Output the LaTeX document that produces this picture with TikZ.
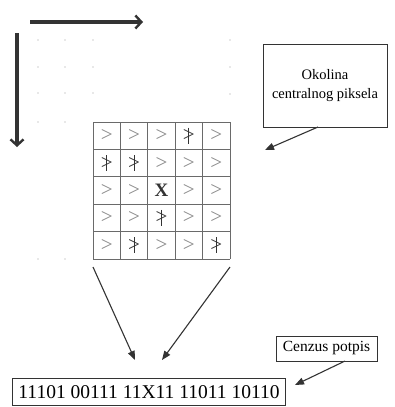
\documentclass[tikz,border=0pt]{standalone}
\usepackage{fontspec}
\setmainfont{Liberation Serif}
\usetikzlibrary{arrows.meta}
\definecolor{ink}{HTML}{333333}
\definecolor{gline}{HTML}{6A6A6A}
\definecolor{gsym}{HTML}{8A8A8A}
\begin{document}
\begin{tikzpicture}[x=1pt,y=-1pt,
  bigarrow/.style={draw=ink,line width=3.4pt,-{Straight Barb[length=6pt,width=13pt,line width=2.4pt]}},
  thinarrow/.style={draw=ink,line width=1.1pt,-{Triangle[length=9pt,width=7pt]}},
  labelbox/.style={draw=ink,line width=1pt,fill=white,inner sep=0pt,align=center},
  gt/.style={text=gsym,font=\fontsize{21}{21}\selectfont,inner sep=0pt},
  ngt/.style={text=ink,font=\fontsize{21}{21}\selectfont,inner sep=0pt},
  faintdot/.style={fill=gray!35,draw=none}
]
\useasboundingbox (0,0) rectangle (395,407);
\fill[white] (0,0) rectangle (395,407);

% faint dots
\foreach \p in {(38,40),(65,40),(93,40),(38,67),(65,67),(93,67),(38,93),(65,93),(93,93),(38,122),(65,122),(230,40),(230,67),(230,94),(38,259),(65,259)}
  \fill[faintdot] \p circle (0.9);

% direction arrows
\coordinate (hs) at (30,22);
\coordinate (he) at (143,22);
\coordinate (vs) at (17,33);
\coordinate (ve) at (17,147);
\draw[bigarrow] (hs) -- (he);
\draw[bigarrow] (vs) -- (ve);

% grid
\foreach \i in {0,...,5} {
  \draw[gline,line width=1pt] (93+27.4*\i,122) -- (93+27.4*\i,259);
  \draw[gline,line width=1pt] (93,122+27.4*\i) -- (230,122+27.4*\i);
}
\node[draw=none,minimum size=137pt,inner sep=0pt] (grid) at (161.5,190.5) {};

% cell contents: 1 = >, 0 = not >, 2 = X
\foreach \row [count=\r from 0] in {{1,1,1,0,1},{0,0,1,1,1},{1,1,2,1,1},{1,1,0,1,1},{1,0,1,1,0}} {
  \foreach \v [count=\c from 0] in \row {
    \pgfmathsetmacro{\cx}{93+13.7+27.4*\c}
    \pgfmathsetmacro{\cy}{122+13.7+27.4*\r}
    \ifnum\v=1
      \node[gt] (c\r\c) at (\cx,\cy) {>};
    \fi
    \ifnum\v=0
      \node[ngt] (c\r\c) at (\cx,\cy) {>};
      \draw[ink,line width=1pt] (\cx,\cy-8) -- (\cx,\cy+8);
    \fi
    \ifnum\v=2
      \node[text=ink,font=\fontsize{19}{19}\selectfont\bfseries,inner sep=0pt] (c\r\c) at (\cx,\cy) {X};
    \fi
  }
}

% label boxes
\node[labelbox,minimum width=124pt,minimum height=83pt] (okolina) at (325,85.5) {};
\node[font=\fontsize{14.5}{15}\selectfont,inner sep=0pt] (okl1) at (325,75) {Okolina};
\node[font=\fontsize{14.5}{15}\selectfont,inner sep=0pt] (okl2) at (325,95) {centralnog piksela};
\node[labelbox,minimum width=101pt,minimum height=25pt] (cenzus) at (326.5,348.5)
  {\fontsize{15.5}{16}\selectfont Cenzus potpis};
\node[labelbox,minimum width=273pt,minimum height=27pt,anchor=north west] (sig) at (12,378)
  {\fontsize{19.5}{20}\selectfont 11101 00111 11X11 11011 10110};

% connectors
\coordinate (okt) at (265,150);
\draw[thinarrow] (318,127) -- (okt);
\coordinate (gl) at (93,267);
\coordinate (gr) at (230,267);
\coordinate (sl) at (135,360);
\coordinate (sr) at (162,360);
\draw[thinarrow] (gl) -- (sl);
\draw[thinarrow] (gr) -- (sr);
\coordinate (cz) at (295,385);
\draw[thinarrow] (345,361) -- (cz);
\end{tikzpicture}
\end{document}
